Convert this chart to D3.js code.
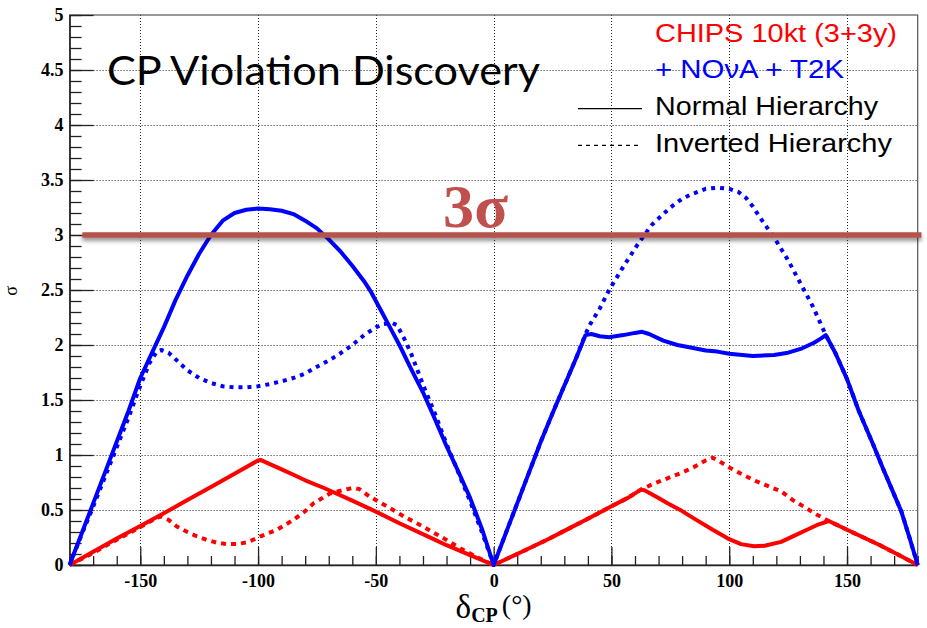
<!DOCTYPE html>
<html>
<head>
<meta charset="utf-8">
<script src="https://cdn.jsdelivr.net/npm/d3@7"></script>
<style>
  html, body { margin: 0; padding: 0; background: #fff; }
  svg { display: block; }
</style>
</head>
<body>
<svg id="chart" width="927" height="628"></svg>
<script>
// δCP axis ticks and σ axis ticks
const xMajorTicks = [-150, -100, -50, 0, 50, 100, 150];
const xMinorTicks = d3.range(-180, 181, 10);
const yMajorTicks = [0, 0.5, 1, 1.5, 2, 2.5, 3, 3.5, 4, 4.5, 5];
const yMinorTicks = d3.range(0, 5.001, 0.1).map(v => +v.toFixed(1));

// CHIPS + NOvA + T2K, normal hierarchy  [δCP (deg), σ]
const combinedNH = [
  [-180, 0], [-175, 0.28], [-170, 0.56], [-165, 0.84], [-160, 1.12], [-155, 1.40],
  [-150, 1.70], [-145, 1.93], [-140, 2.16], [-135, 2.41], [-130, 2.63], [-125, 2.83],
  [-120, 3.00], [-115, 3.13], [-110, 3.20], [-105, 3.23], [-100, 3.24], [-95, 3.235],
  [-90, 3.22], [-85, 3.19], [-80, 3.13], [-75, 3.06], [-70, 2.96], [-65, 2.85],
  [-60, 2.72], [-55, 2.58], [-52, 2.48], [-48, 2.32], [-44, 2.16], [-40, 2.0],
  [-35, 1.78], [-30, 1.57], [-25, 1.33], [-20, 1.08], [-15, 0.85], [-10, 0.61],
  [-5, 0.33], [0, 0],
  [5, 0.28], [10, 0.56], [15, 0.84], [20, 1.12], [25, 1.38], [30, 1.63], [35, 1.88],
  [39, 2.09], [41.5, 2.10], [45, 2.08], [49, 2.07],
  [55, 2.09], [60, 2.11], [63, 2.12], [66, 2.10], [72, 2.04], [78, 2.0], [83, 1.98],
  [90, 1.95], [95, 1.94], [100, 1.92], [110, 1.90], [119, 1.91], [125, 1.93],
  [131, 1.97], [136, 2.02], [139, 2.06], [141, 2.09], [145, 1.93], [150, 1.69],
  [155, 1.40], [161, 1.10], [165, 0.89], [170, 0.64], [173, 0.49], [176.5, 0.25], [180, 0]
];

// CHIPS + NOvA + T2K, inverted hierarchy
const combinedIH = [
  [-180, 0], [-175, 0.27], [-170, 0.53], [-165, 0.80], [-160, 1.07], [-155, 1.34],
  [-150, 1.63], [-146, 1.84], [-143, 1.94], [-141, 1.955], [-138, 1.93], [-135, 1.87],
  [-130, 1.77], [-125, 1.70], [-120, 1.655], [-115, 1.625], [-110, 1.615], [-105, 1.615],
  [-100, 1.625], [-95, 1.645], [-90, 1.67], [-85, 1.70], [-80, 1.74], [-76, 1.79],
  [-70, 1.86], [-66, 1.91], [-60, 2.0], [-55, 2.09], [-50, 2.16], [-47, 2.19],
  [-43, 2.20], [-41, 2.18], [-38, 2.06], [-35, 1.92], [-30, 1.64], [-25, 1.38],
  [-20, 1.10], [-15, 0.84], [-10, 0.58], [-5, 0.30], [0, 0],
  [5, 0.28], [10, 0.56], [15, 0.84], [20, 1.12], [25, 1.38], [30, 1.63], [35, 1.88],
  [39, 2.10], [41, 2.19], [45, 2.33], [49, 2.50],
  [55, 2.71], [61, 2.91], [67, 3.09], [75, 3.25], [80, 3.33], [84, 3.37], [90, 3.42],
  [95, 3.43], [100, 3.42], [104, 3.39], [107, 3.34], [110, 3.26], [113, 3.16],
  [116, 3.07], [119, 2.98], [125, 2.77], [131, 2.53], [135.5, 2.35], [141, 2.09],
  [145, 1.93], [150, 1.69], [155, 1.40], [161, 1.10], [165, 0.89], [170, 0.64],
  [173, 0.49], [176.5, 0.25], [180, 0]
];

// CHIPS 10kt alone, normal hierarchy
const chipsNH = [
  [-180, 0], [-170, 0.12], [-160, 0.24], [-150, 0.355], [-140, 0.47], [-130, 0.59],
  [-120, 0.71], [-110, 0.83], [-100, 0.95], [-99, 0.955], [-90, 0.87], [-85, 0.82],
  [-80, 0.77], [-72, 0.70], [-60, 0.585], [-50, 0.485], [-40, 0.38], [-28, 0.26],
  [-20, 0.18], [-10, 0.09], [0, 0],
  [10, 0.10], [22.7, 0.23], [30, 0.31], [40, 0.42], [51, 0.545], [57, 0.61],
  [62.5, 0.685], [64, 0.68], [70, 0.61], [74, 0.56], [80, 0.49], [86, 0.41],
  [93, 0.32], [100, 0.235], [105, 0.19], [110.5, 0.17], [115, 0.175], [122, 0.21],
  [127, 0.26], [133, 0.32], [138, 0.37], [142.3, 0.40], [150, 0.32], [157, 0.25],
  [164, 0.18], [172, 0.09], [180, 0]
];

// CHIPS 10kt alone, inverted hierarchy
const chipsIH = [
  [-180, 0], [-170, 0.11], [-160, 0.23], [-150, 0.345], [-143, 0.43], [-141, 0.44],
  [-138, 0.41], [-134.5, 0.35], [-130, 0.30], [-127, 0.27], [-122, 0.23], [-117, 0.20],
  [-113, 0.19], [-109, 0.19], [-105, 0.205], [-102, 0.23], [-99, 0.26], [-92, 0.32],
  [-85, 0.41], [-80, 0.49], [-76.5, 0.56], [-69.5, 0.65], [-64, 0.68], [-60, 0.70],
  [-57, 0.69], [-52.5, 0.62], [-45, 0.53], [-38, 0.44], [-30, 0.35], [-21, 0.24],
  [-14, 0.15], [-7, 0.07], [0, 0],
  [10, 0.10], [22.7, 0.23], [30, 0.31], [40, 0.42], [51, 0.545], [57, 0.61],
  [62.5, 0.685], [68, 0.74], [74, 0.79], [80, 0.84], [85, 0.89], [90, 0.95],
  [93, 0.975], [96, 0.94], [100.6, 0.88], [105, 0.83], [110.5, 0.77], [115, 0.73],
  [122, 0.67], [127, 0.59], [131.7, 0.53], [137, 0.46], [142.3, 0.40], [150, 0.32],
  [157, 0.25], [164, 0.18], [172, 0.09], [180, 0]
];

// 3σ reference level
const sigmaLevel = { value: 3, from: -174.6, to: 181.6, label: "3σ" };

const legendEntries = [
  { text: "CHIPS 10kt (3+3y)", color: "#ff0000", line: null, width: 242 },
  { text: "+ NOνA + T2K", color: "#0000ff", line: null, width: 189 },
  { text: "Normal Hierarchy", color: "#000", line: "solid", width: 223 },
  { text: "Inverted Hierarchy", color: "#000", line: "dashed", width: 237 }
];

const svg = d3.select("#chart");
const x = d3.scaleLinear().domain([-180, 180]).range([69.6, 917.7]);
const y = d3.scaleLinear().domain([0, 5]).range([565, 15]);

const defs = svg.append("defs");
const shadow = defs.append("filter").attr("id", "lineShadow")
  .attr("filterUnits", "userSpaceOnUse")
  .attr("x", 0).attr("y", 200).attr("width", 927).attr("height", 80);
shadow.append("feDropShadow").attr("dx", 0).attr("dy", 3).attr("stdDeviation", 2)
  .attr("flood-color", "#000").attr("flood-opacity", 0.45);

// dotted grid
const grid = svg.append("g").attr("stroke", "#000").attr("stroke-width", 1)
  .attr("stroke-dasharray", "1,2").attr("opacity", 0.85);
grid.selectAll("line.v").data(xMajorTicks).join("line").attr("class", "v")
  .attr("x1", d => Math.round(x(d)) + 0.5).attr("x2", d => Math.round(x(d)) + 0.5)
  .attr("y1", y(5)).attr("y2", y(0));
grid.selectAll("line.h").data(yMajorTicks.filter(v => v > 0 && v < 5)).join("line").attr("class", "h")
  .attr("y1", d => Math.round(y(d)) + 0.5).attr("y2", d => Math.round(y(d)) + 0.5)
  .attr("x1", x(-180)).attr("x2", x(180));

// frame
svg.append("rect").attr("x", x(-180)).attr("y", y(5))
  .attr("width", x(180) - x(-180)).attr("height", y(0) - y(5))
  .attr("fill", "none").attr("stroke", "#555").attr("stroke-width", 1.2);

const tickFont = "'Liberation Serif', 'Times New Roman', serif";

// x axis: major ticks with labels, minor ticks
const xAxis = svg.append("g").attr("transform", `translate(0,${y(0)})`)
  .call(d3.axisBottom(x).tickValues(xMajorTicks).tickSizeInner(-18).tickSizeOuter(0)
    .tickPadding(9).tickFormat(d => String(d)));
svg.append("g").attr("transform", `translate(0,${y(0)})`)
  .call(d3.axisBottom(x).tickValues(xMinorTicks).tickSizeInner(-9).tickSizeOuter(0).tickFormat(""))
  .call(g => g.select(".domain").remove());

// y axis
const yAxis = svg.append("g").attr("transform", `translate(${x(-180)},0)`)
  .call(d3.axisLeft(y).tickValues(yMajorTicks).tickSizeInner(-24).tickSizeOuter(0)
    .tickPadding(6).tickFormat(d => String(d)));
svg.append("g").attr("transform", `translate(${x(-180)},0)`)
  .call(d3.axisLeft(y).tickValues(yMinorTicks).tickSizeInner(-12).tickSizeOuter(0).tickFormat(""))
  .call(g => g.select(".domain").remove());

svg.selectAll(".tick line").attr("stroke", "#222").attr("stroke-width", 1.3);
svg.selectAll(".domain").attr("stroke", "#222").attr("stroke-width", 1.5);
[xAxis, yAxis].forEach(a => a.selectAll("text")
  .attr("font-family", tickFont).attr("font-weight", "bold").attr("font-size", 18).attr("fill", "#000"));

// axis titles
svg.append("text").attr("transform", "translate(17,291) rotate(-90)")
  .attr("text-anchor", "middle").attr("font-family", tickFont).attr("font-size", 18)
  .text("σ");
const xt = svg.append("text").attr("x", x(0)).attr("y", 618)
  .attr("text-anchor", "middle").attr("font-family", tickFont);
xt.append("tspan").attr("font-size", 33).text("δ");
xt.append("tspan").attr("font-size", 20).attr("font-weight", "bold").attr("dy", 4).text("CP");
xt.append("tspan").attr("font-size", 28).attr("dy", -8).attr("dx", 4).text("(°)");

// curves
const line = d3.line().x(d => x(d[0])).y(d => y(d[1]));
const curves = [
  { data: chipsNH, color: "#ff0000", dash: null },
  { data: chipsIH, color: "#ff0000", dash: "5,5" },
  { data: combinedNH, color: "#0000ff", dash: null },
  { data: combinedIH, color: "#0000ff", dash: "4,5" }
];
svg.append("g").selectAll("path").data(curves).join("path")
  .attr("d", d => line(d.data))
  .attr("fill", "none").attr("stroke", d => d.color).attr("stroke-width", 4)
  .attr("stroke-linejoin", "round")
  .attr("stroke-dasharray", d => d.dash);

// legend
const legend = svg.append("g");
legendEntries.forEach((e, i) => {
  const baseline = 41.7 + i * 36.7;
  legend.append("text").attr("x", 655).attr("y", baseline)
    .attr("font-family", "'Liberation Sans', Arial, sans-serif").attr("font-size", 26)
    .attr("textLength", e.width).attr("lengthAdjust", "spacingAndGlyphs")
    .attr("fill", e.color).text(e.text);
  if (e.line) {
    legend.append("line").attr("x1", 578).attr("x2", 642)
      .attr("y1", baseline - 6.5).attr("y2", baseline - 6.5)
      .attr("stroke", "#000").attr("stroke-width", 1.2)
      .attr("stroke-dasharray", e.line === "dashed" ? "4,4" : null);
  }
});

// title
svg.append("text").attr("x", 107).attr("y", 85)
  .attr("font-family", "Lato, 'Open Sans', sans-serif").attr("font-size", 41)
  .attr("textLength", 433).attr("lengthAdjust", "spacingAndGlyphs")
  .attr("fill", "#000").text("CP Violation Discovery");

// 3σ band and label
const bandHalf = 2.75;
svg.append("rect")
  .attr("x", x(sigmaLevel.from)).attr("width", x(sigmaLevel.to) - x(sigmaLevel.from))
  .attr("y", y(sigmaLevel.value) - bandHalf).attr("height", 2 * bandHalf)
  .attr("fill", "#b5524c")
  .attr("filter", "url(#lineShadow)");
svg.append("text").attr("x", 443).attr("y", 227)
  .attr("font-family", tickFont).attr("font-weight", "bold").attr("font-size", 62)
  .attr("textLength", 65).attr("lengthAdjust", "spacingAndGlyphs")
  .attr("fill", "#c0504d").text(sigmaLevel.label);
</script>
</body>
</html>
